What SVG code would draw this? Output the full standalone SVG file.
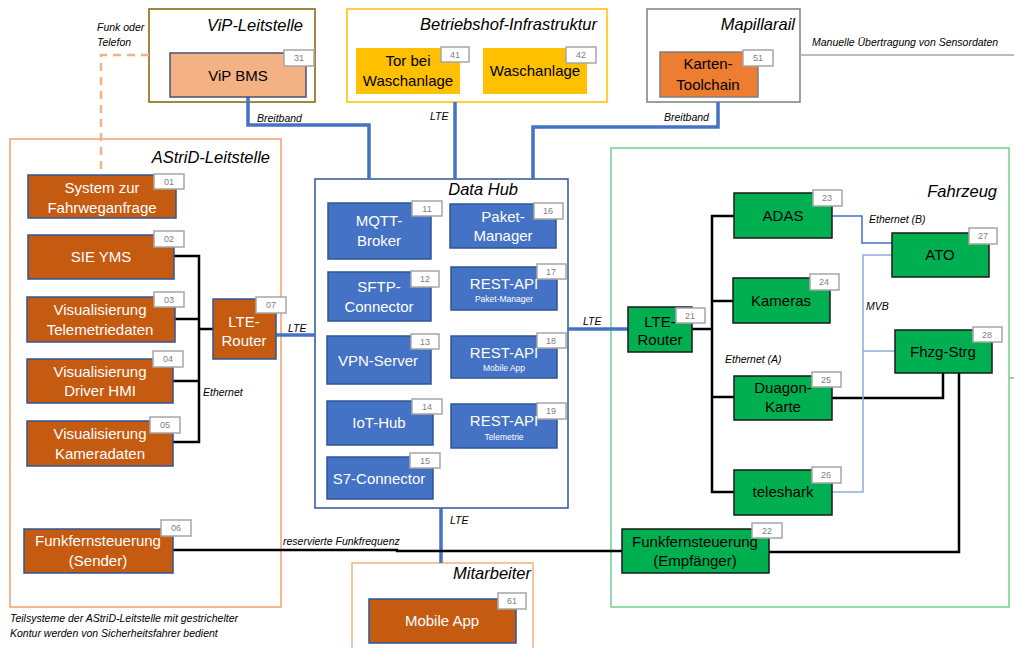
<svg xmlns="http://www.w3.org/2000/svg" width="1014" height="648" viewBox="0 0 1014 648">
<style>
  text { font-family: "Liberation Sans", Arial, sans-serif; }
  .bg { fill: #ffffff; }
  .cont { fill: #ffffff; stroke-width: 1.5; }
  .ctitle { font-size: 16.5px; font-style: italic; fill: #000000; text-anchor: end; }
  .lbl { font-size: 10.5px; font-style: italic; fill: #000000; }
  .nt { font-size: 15px; text-anchor: middle; }
  .w { fill: #ffffff; }
  .k { fill: #000000; }
  .sub { font-size: 8.5px; text-anchor: middle; fill: #ffffff; }
  .orange { fill: #c55a11; stroke: #2f5597; stroke-width: 1.5; }
  .blue { fill: #4472c4; stroke: #2f5597; stroke-width: 1.5; }
  .green { fill: #00b050; stroke: #1a1a1a; stroke-width: 1.5; }
  .gold { fill: #ffc000; }
  .tag { fill: #ffffff; stroke: #a6a6a6; stroke-width: 1.5; }
  .tagt { font-size: 9px; fill: #808080; text-anchor: middle; }
  .wide { fill: none; stroke: #4472c4; stroke-width: 3.5; }
  .eth { fill: none; stroke: #000000; stroke-width: 2.5; }
  .ethb { fill: none; stroke: #4472c4; stroke-width: 1.5; }
  .mvb { fill: none; stroke: #8faadc; stroke-width: 1.5; }
  .grey { fill: none; stroke: #a6a6a6; stroke-width: 1.5; }
  .dash { fill: none; stroke: #f4b183; stroke-width: 2.5; stroke-dasharray: 8 6; }
</style>

<rect class="bg" x="0" y="0" width="1014" height="648"/>

<!-- containers -->
<g id="vip-leitstelle">
  <rect class="cont" x="149" y="9" width="166" height="93" stroke="#7f6000"/>
  <text class="ctitle" x="303" y="31">ViP-Leitstelle</text>
</g>
<g id="betriebshof">
  <rect class="cont" x="347" y="9" width="260" height="93" stroke="#ffc000"/>
  <text class="ctitle" x="597" y="30">Betriebshof-Infrastruktur</text>
</g>
<g id="mapillarail">
  <rect class="cont" x="647" y="9" width="153" height="93" stroke="#7f7f7f"/>
  <text class="ctitle" x="795" y="30">Mapillarail</text>
</g>
<g id="astrid-leitstelle">
  <rect class="cont" x="10" y="139" width="271" height="468" stroke="#f0a070"/>
  <text class="ctitle" x="270" y="163">AStriD-Leitstelle</text>
</g>
<g id="data-hub">
  <rect class="cont" x="315" y="179" width="253" height="329" stroke="#2f5597"/>
  <text class="ctitle" x="518" y="195">Data Hub</text>
</g>
<g id="fahrzeug">
  <rect class="cont" x="611" y="148" width="398" height="459" stroke="#6fcf8f"/>
  <text class="ctitle" x="997" y="197">Fahrzeug</text>
</g>
<g id="mitarbeiter">
  <rect class="cont" x="352" y="563" width="181" height="95" stroke="#f4b183"/>
  <text class="ctitle" x="531" y="579">Mitarbeiter</text>
</g>

<!-- connectors -->
<g id="connectors">
  <path class="dash" d="M149 55 H101 V174"/>
  <path class="wide" d="M248 97 V125 H369 V179"/>
  <path class="wide" d="M455 102 V179"/>
  <path class="wide" d="M718 102 V127 H533 V179"/>
  <path class="grey" d="M800 55 H1014"/>
  <path class="grey" d="M1009 378 H1014"/>
  <path class="wide" d="M276 335 H315"/>
  <path class="wide" d="M568 329 H628"/>
  <path class="wide" d="M441 508 V563"/>
  <!-- AStriD ethernet -->
  <path class="eth" d="M174 256 H199 V442 H173"/>
  <path class="eth" d="M175 319 H199"/>
  <path class="eth" d="M173 381 H199"/>
  <path class="eth" d="M199 329 H213"/>
  <!-- radio link -->
  <path class="eth" d="M173 550 H397 V551 H622"/>
  <!-- vehicle ethernet A -->
  <path class="eth" d="M734 216 H712 V492 H734"/>
  <path class="eth" d="M712 301 H733"/>
  <path class="eth" d="M712 397 H734"/>
  <path class="eth" d="M692 329 H712"/>
  <path class="eth" d="M832 398 H943 V373"/>
  <path class="eth" d="M959 373 V552 H769"/>
  <!-- ethernet B -->
  <path class="ethb" d="M832 216 H862 V243 H892"/>
  <!-- MVB -->
  <path class="mvb" d="M892 255 H863 V492 H832"/>
  <path class="mvb" d="M863 351 H895"/>
  <!-- link labels -->
  <text class="lbl" x="97" y="31">Funk oder</text>
  <text class="lbl" x="97" y="46">Telefon</text>
  <text class="lbl" x="257" y="122">Breitband</text>
  <text class="lbl" x="430" y="120">LTE</text>
  <text class="lbl" x="664" y="121">Breitband</text>
  <text class="lbl" x="812" y="46">Manuelle Übertragung von Sensordaten</text>
  <text class="lbl" x="288" y="332">LTE</text>
  <text class="lbl" x="583" y="325">LTE</text>
  <text class="lbl" x="450" y="524">LTE</text>
  <text class="lbl" x="203" y="396">Ethernet</text>
  <text class="lbl" x="283" y="545">reservierte Funkfrequenz</text>
  <text class="lbl" x="725" y="363">Ethernet (A)</text>
  <text class="lbl" x="869" y="223">Ethernet (B)</text>
  <text class="lbl" x="866" y="310">MVB</text>
</g>

<!-- ViP -->
<g id="n31">
  <rect x="170" y="53" width="136" height="44" fill="#f4b183" stroke="#44546a" stroke-width="1.5"/>
  <rect class="tag" x="284" y="50" width="30" height="16"/><text class="tagt" x="299" y="61">31</text>
  <text class="nt k" x="238" y="81">ViP BMS</text>
</g>

<!-- Betriebshof -->
<g id="n41">
  <rect class="gold" x="356" y="48" width="104" height="46"/>
  <rect class="tag" x="441" y="47" width="28" height="15"/><text class="tagt" x="455" y="58">41</text>
  <text class="nt k" x="408" y="66">Tor bei</text>
  <text class="nt k" x="408" y="86">Waschanlage</text>
</g>
<g id="n42">
  <rect class="gold" x="483" y="48" width="104" height="46"/>
  <rect class="tag" x="566" y="47" width="30" height="16"/><text class="tagt" x="581" y="58">42</text>
  <text class="nt k" x="535" y="76">Waschanlage</text>
</g>

<!-- Mapillarail -->
<g id="n51">
  <rect x="660" y="52" width="98" height="45" fill="#ed7d31" stroke="#7f7f7f" stroke-width="1.5"/>
  <rect class="tag" x="743" y="50" width="30" height="16"/><text class="tagt" x="758" y="61">51</text>
  <text class="nt k" x="708" y="69">Karten-</text>
  <text class="nt k" x="708" y="90">Toolchain</text>
</g>

<!-- AStriD-Leitstelle nodes -->
<g id="n01">
  <rect class="orange" x="28" y="175" width="148" height="43"/>
  <rect class="tag" x="154" y="174" width="30" height="15"/><text class="tagt" x="169" y="185">01</text>
  <text class="nt w" x="102" y="193">System zur</text>
  <text class="nt w" x="102" y="213">Fahrweganfrage</text>
</g>
<g id="n02">
  <rect class="orange" x="28" y="235" width="146" height="44"/>
  <rect class="tag" x="154" y="231" width="30" height="16"/><text class="tagt" x="169" y="242">02</text>
  <text class="nt w" x="101" y="262">SIE YMS</text>
</g>
<g id="n03">
  <rect class="orange" x="27" y="297" width="148" height="45"/>
  <rect class="tag" x="154" y="292" width="30" height="15"/><text class="tagt" x="169" y="303">03</text>
  <text class="nt w" x="100" y="315">Visualisierung</text>
  <text class="nt w" x="100" y="335">Telemetriedaten</text>
</g>
<g id="n04">
  <rect class="orange" x="27" y="359" width="146" height="44"/>
  <rect class="tag" x="153" y="351" width="30" height="16"/><text class="tagt" x="168" y="362">04</text>
  <text class="nt w" x="100" y="377">Visualisierung</text>
  <text class="nt w" x="100" y="396">Driver HMI</text>
</g>
<g id="n05">
  <rect class="orange" x="27" y="421" width="146" height="45"/>
  <rect class="tag" x="150" y="417" width="30" height="16"/><text class="tagt" x="165" y="428">05</text>
  <text class="nt w" x="100" y="439">Visualisierung</text>
  <text class="nt w" x="100" y="459">Kameradaten</text>
</g>
<g id="n07">
  <rect class="orange" x="213" y="299" width="63" height="60"/>
  <rect class="tag" x="256" y="297" width="30" height="16"/><text class="tagt" x="271" y="308">07</text>
  <text class="nt w" x="244" y="327">LTE-</text>
  <text class="nt w" x="244" y="346">Router</text>
</g>
<g id="n06">
  <rect class="orange" x="24" y="529" width="149" height="44"/>
  <rect class="tag" x="161" y="520" width="30" height="16"/><text class="tagt" x="176" y="531">06</text>
  <text class="nt w" x="98" y="546">Funkfernsteuerung</text>
  <text class="nt w" x="98" y="566">(Sender)</text>
</g>

<!-- Data Hub nodes -->
<g id="n11">
  <rect class="blue" x="328" y="203" width="103" height="56"/>
  <rect class="tag" x="412" y="201" width="30" height="15"/><text class="tagt" x="427" y="212">11</text>
  <text class="nt w" x="379" y="226">MQTT-</text>
  <text class="nt w" x="379" y="246">Broker</text>
</g>
<g id="n12">
  <rect class="blue" x="328" y="272" width="103" height="49"/>
  <rect class="tag" x="411" y="271" width="28" height="16"/><text class="tagt" x="425" y="282">12</text>
  <text class="nt w" x="379" y="292">SFTP-</text>
  <text class="nt w" x="379" y="312">Connector</text>
</g>
<g id="n13">
  <rect class="blue" x="327" y="336" width="104" height="48"/>
  <rect class="tag" x="411" y="334" width="28" height="15"/><text class="tagt" x="425" y="345">13</text>
  <text class="nt w" x="378" y="366">VPN-Server</text>
</g>
<g id="n14">
  <rect class="blue" x="327" y="401" width="106" height="44"/>
  <rect class="tag" x="412" y="399" width="30" height="15"/><text class="tagt" x="427" y="410">14</text>
  <text class="nt w" x="379" y="428">IoT-Hub</text>
</g>
<g id="n15">
  <rect class="blue" x="327" y="457" width="106" height="42"/>
  <rect class="tag" x="410" y="453" width="30" height="15"/><text class="tagt" x="425" y="464">15</text>
  <text class="nt w" x="379" y="484">S7-Connector</text>
</g>
<g id="n16">
  <rect class="blue" x="450" y="204" width="106" height="44"/>
  <rect class="tag" x="534" y="203" width="29" height="16"/><text class="tagt" x="548" y="214">16</text>
  <text class="nt w" x="503" y="222">Paket-</text>
  <text class="nt w" x="503" y="241">Manager</text>
</g>
<g id="n17">
  <rect class="blue" x="451" y="267" width="106" height="43"/>
  <rect class="tag" x="537" y="264" width="29" height="15"/><text class="tagt" x="551" y="275">17</text>
  <text class="nt w" x="504" y="289">REST-API</text>
  <text class="sub" x="504" y="302">Paket-Manager</text>
</g>
<g id="n18">
  <rect class="blue" x="451" y="336" width="106" height="42"/>
  <rect class="tag" x="537" y="333" width="29" height="15"/><text class="tagt" x="551" y="344">18</text>
  <text class="nt w" x="504" y="358">REST-API</text>
  <text class="sub" x="504" y="371">Mobile App</text>
</g>
<g id="n19">
  <rect class="blue" x="451" y="404" width="106" height="44"/>
  <rect class="tag" x="537" y="403" width="29" height="16"/><text class="tagt" x="551" y="414">19</text>
  <text class="nt w" x="504" y="426">REST-API</text>
  <text class="sub" x="504" y="440">Telemetrie</text>
</g>

<!-- Mitarbeiter -->
<g id="n61">
  <rect class="orange" x="369" y="599" width="147" height="44"/>
  <rect class="tag" x="498" y="593" width="28" height="16"/><text class="tagt" x="512" y="604">61</text>
  <text class="nt w" x="442" y="626">Mobile App</text>
</g>

<!-- Fahrzeug nodes -->
<g id="n21">
  <rect class="green" x="628" y="307" width="64" height="45"/>
  <rect class="tag" x="676" y="308" width="29" height="15"/><text class="tagt" x="690" y="319">21</text>
  <text class="nt k" x="660" y="327">LTE-</text>
  <text class="nt k" x="660" y="345">Router</text>
</g>
<g id="n23">
  <rect class="green" x="734" y="193" width="98" height="45"/>
  <rect class="tag" x="813" y="190" width="29" height="16"/><text class="tagt" x="827" y="201">23</text>
  <text class="nt k" x="783" y="221">ADAS</text>
</g>
<g id="n24">
  <rect class="green" x="733" y="278" width="97" height="45"/>
  <rect class="tag" x="810" y="274" width="29" height="16"/><text class="tagt" x="824" y="285">24</text>
  <text class="nt k" x="781" y="306">Kameras</text>
</g>
<g id="n25">
  <rect class="green" x="734" y="376" width="98" height="44"/>
  <rect class="tag" x="812" y="372" width="29" height="15"/><text class="tagt" x="826" y="383">25</text>
  <text class="nt k" x="783" y="393">Duagon-</text>
  <text class="nt k" x="783" y="412">Karte</text>
</g>
<g id="n26">
  <rect class="green" x="734" y="470" width="98" height="45"/>
  <rect class="tag" x="812" y="467" width="29" height="16"/><text class="tagt" x="826" y="478">26</text>
  <text class="nt k" x="783" y="497">teleshark</text>
</g>
<g id="n27">
  <rect class="green" x="892" y="233" width="97" height="44"/>
  <rect class="tag" x="969" y="228" width="28" height="16"/><text class="tagt" x="983" y="239">27</text>
  <text class="nt k" x="940" y="260">ATO</text>
</g>
<g id="n28">
  <rect class="green" x="895" y="330" width="97" height="43"/>
  <rect class="tag" x="973" y="327" width="29" height="15"/><text class="tagt" x="987" y="338">28</text>
  <text class="nt k" x="943" y="357">Fhzg-Strg</text>
</g>
<g id="n22">
  <rect class="green" x="622" y="529" width="147" height="44"/>
  <rect class="tag" x="752" y="523" width="30" height="15"/><text class="tagt" x="767" y="534">22</text>
  <text class="nt k" x="695" y="547">Funkfernsteuerung</text>
  <text class="nt k" x="695" y="566">(Empfänger)</text>
</g>

<!-- footnote -->
<g id="note">
  <text class="lbl" x="10" y="622" font-size="10px">Teilsysteme der AStriD-Leitstelle mit gestrichelter</text>
  <text class="lbl" x="10" y="637" font-size="10px">Kontur werden von Sicherheitsfahrer bedient</text>
</g>
</svg>
